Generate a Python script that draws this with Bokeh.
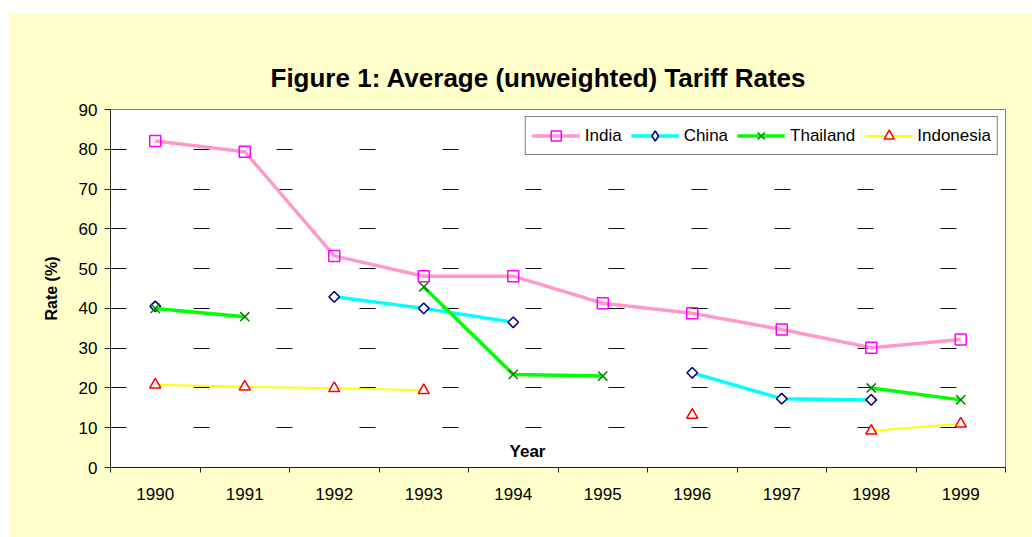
import math
from bokeh.plotting import figure
from bokeh.models import Range1d, FixedTicker, Legend, LegendItem, Label, Spacer
from bokeh.layouts import row, column
from bokeh.embed import file_html
from bokeh.resources import INLINE

NaN = float("nan")

years = [1990, 1991, 1992, 1993, 1994, 1995, 1996, 1997, 1998, 1999]
india = [82.1, 79.4, 53.2, 48.1, 48.1, 41.3, 38.8, 34.7, 30.1, 32.2]
china = [40.5, NaN, 42.9, 40.0, 36.5, NaN, 23.8, 17.3, 17.0, NaN]
thailand = [40.0, 37.9, NaN, 45.4, 23.4, 23.0, NaN, NaN, 20.0, 17.0]
indonesia = [20.8, 20.3, 19.9, 19.4, NaN, NaN, 13.2, NaN, 9.2, 11.0]
y_ticks = [0, 10, 20, 30, 40, 50, 60, 70, 80, 90]

FONT = "Liberation Sans"

p = figure(width=1024, height=525,
           x_range=Range1d(years[0] - 0.5, years[-1] + 0.5),
           y_range=Range1d(y_ticks[0], y_ticks[-1]),
           output_backend="svg", toolbar_location=None,
           min_border_left=102, min_border_right=27,
           min_border_top=97, min_border_bottom=70)

p.border_fill_color = "#FFFFCC"
p.background_fill_color = "white"
p.outline_line_color = "#808080"
p.outline_line_width = 1

# Title
p.title.text = "Figure 1: Average (unweighted) Tariff Rates"
p.title.text_font = FONT
p.title.text_font_size = "26px"
p.title.text_font_style = "bold"
p.title.text_color = "black"
p.title.align = "left"
p.title.offset = 160
p.title.standoff = 34

# X axis
xa = p.xaxis[0]
xa.ticker = FixedTicker(ticks=years, minor_ticks=[y - 0.5 for y in years] + [years[-1] + 0.5])
xa.major_tick_out = 0
xa.major_tick_in = 0
xa.major_tick_line_color = None
xa.minor_tick_out = 5
xa.minor_tick_in = 0
xa.minor_tick_line_color = "#222222"
xa.axis_line_color = "#222222"
xa.major_label_text_font = FONT
xa.major_label_text_font_size = "17px"
xa.major_label_text_color = "black"
xa.major_label_standoff = 15

# Y axis
ya = p.yaxis[0]
ya.ticker = FixedTicker(ticks=y_ticks, minor_ticks=[])
ya.major_tick_out = 6
ya.major_tick_in = 0
ya.major_tick_line_color = "#222222"
ya.axis_line_color = "#222222"
ya.major_label_text_font = FONT
ya.major_label_text_font_size = "17px"
ya.major_label_text_color = "black"
ya.major_label_standoff = 7
ya.axis_label = "Rate (%)"
ya.axis_label_text_font = FONT
ya.axis_label_text_font_size = "16px"
ya.axis_label_text_font_style = "bold"
ya.axis_label_text_color = "black"
ya.axis_label_standoff = 16

p.xgrid.visible = False
p.ygrid.ticker = FixedTicker(ticks=y_ticks[1:-1], minor_ticks=[])
p.ygrid.grid_line_color = "#111111"
p.ygrid.grid_line_dash = "16 67"
p.ygrid.grid_line_width = 1

# Series
l_in = p.line(years, india, line_color="#FF99CC", line_width=3.5)
s_in = p.scatter(years, india, marker="square", size=11, fill_color=None,
                 line_color="#FF00FF", line_width=1.5)
l_ch = p.line(years, china, line_color="#00FFFF", line_width=3.5)
s_ch = p.scatter(years, china, marker="square", angle=math.pi / 4, size=7.5,
                 fill_color="white", line_color="#000080", line_width=1.5)
s_ch_leg = p.scatter([NaN], [NaN], marker="diamond", size=10, fill_color="white",
                     line_color="#000080", line_width=1.5)
l_th = p.line(years, thailand, line_color="#00FF00", line_width=3.5)
s_th = p.scatter(years, thailand, marker="x", size=13,
                 line_color="#008000", line_width=1.5)
l_id = p.line(years, indonesia, line_color="#FFFF00", line_width=2)
s_id = p.scatter(years, indonesia, marker="triangle", size=11, fill_color="white",
                 line_color="#FF0000", line_width=1.5)

legend = Legend(items=[
    LegendItem(label="India", renderers=[l_in, s_in]),
    LegendItem(label="China", renderers=[l_ch, s_ch_leg]),
    LegendItem(label="Thailand", renderers=[l_th, s_th]),
    LegendItem(label="Indonesia", renderers=[l_id, s_id]),
], orientation="horizontal", location="top_right", margin=7, padding=6,
    spacing=9, glyph_width=48, glyph_height=25, label_height=25,
    label_standoff=5, label_text_font=FONT, label_text_font_size="17px",
    label_text_color="black", border_line_color="black", border_line_width=1,
    background_fill_color="white", background_fill_alpha=1.0)
p.add_layout(legend)

year_label = Label(x=417, y=16, x_units="screen", y_units="screen", text="Year",
                   text_font=FONT, text_font_size="17px",
                   text_font_style="bold", text_align="center",
                   text_baseline="middle", text_color="black")
p.add_layout(year_label)

page = row(Spacer(width=8, height=537),
           column(Spacer(width=1024, height=12), p))

open("out.html", "w").write(file_html(page, INLINE))
